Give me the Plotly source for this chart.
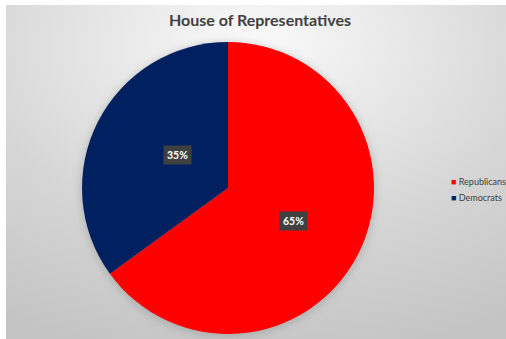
import math
import plotly.graph_objects as go

title = "House of Representatives"
labels = ["Republicans", "Democrats"]
values = [65, 35]
colors = ["#ff0000", "#002060"]

W, H = 506, 339
# pie placement in pixels
cx, cy, R = 228, 188, 146
dom_x = [(cx - R) / W, (cx + R) / W]
dom_y = [1 - (cy + R) / H, 1 - (cy - R) / H]

fig = go.Figure()
fig.add_trace(go.Pie(
    labels=labels, values=values, sort=False, direction="clockwise", rotation=0,
    marker=dict(colors=colors, line=dict(width=0)),
    textinfo="none", hoverinfo="label+percent", showlegend=False,
    domain=dict(x=dom_x, y=dom_y),
))

svg = (
    "data:image/svg+xml;utf8,"
    "<svg xmlns='http://www.w3.org/2000/svg' width='500' height='334'>"
    "<defs><radialGradient id='g' cx='50%' cy='12%' r='95%' fx='50%' fy='12%'>"
    "<stop offset='0' stop-color='%23fafafa'/><stop offset='0.6' stop-color='%23d6d6d6'/>"
    "<stop offset='1' stop-color='%23c4c4c4'/></radialGradient>"
    "<filter id='s' x='-20%' y='-20%' width='140%' height='140%'><feGaussianBlur stdDeviation='4'/></filter></defs>"
    "<rect width='500' height='334' fill='url(%23g)'/>"
    f"<circle cx='{cx-6}' cy='{cy-5+2}' r='{R+1}' fill='%23909090' fill-opacity='0.5' filter='url(%23s)'/>"
    "</svg>"
)
fig.add_layout_image(dict(source=svg, xref="paper", yref="paper", x=6 / W, y=1 - 5 / H,
                          sizex=500 / W, sizey=334 / H, xanchor="left", yanchor="top",
                          sizing="stretch", layer="below"))

total = sum(values)
start = 0.0
annotations = []
for v in values:
    mid = (start + v / 2) / total * 2 * math.pi
    start += v
    px = cx + 0.5 * R * math.sin(mid)
    py = cy - 0.5 * R * math.cos(mid)
    annotations.append(dict(
        x=px / W, y=1 - py / H, xref="paper", yref="paper", showarrow=False,
        text=f"<b>{round(v / total * 100)}%</b>", font=dict(family="Lato, Open Sans", size=10.5, color="white"),
        bgcolor="#404040", borderpad=3,
    ))

for i, (lab, col) in enumerate(zip(labels, colors)):
    annotations.append(dict(
        x=449 / W, y=1 - (181 + 16 * i) / H, xref="paper", yref="paper", showarrow=False,
        xanchor="left", text=f"<span style='color:{col}'>■</span> {lab}",
        font=dict(family="Lato, Open Sans", size=9, color="#404040"),
    ))

fig.update_layout(
    width=W, height=H, margin=dict(l=0, r=0, t=0, b=0),
    paper_bgcolor="white", plot_bgcolor="white",
    title=dict(text=f"<b>{title}</b>", x=260 / W, xanchor="center", y=1 - 20 / H, yanchor="middle",
               font=dict(family="Lato, Open Sans", size=16, color="#404040")),
    annotations=annotations,
)

fig.write_html("out.html", post_script="document.body.style.margin='0';document.body.style.overflow='hidden';",
               config={"displayModeBar": False})
